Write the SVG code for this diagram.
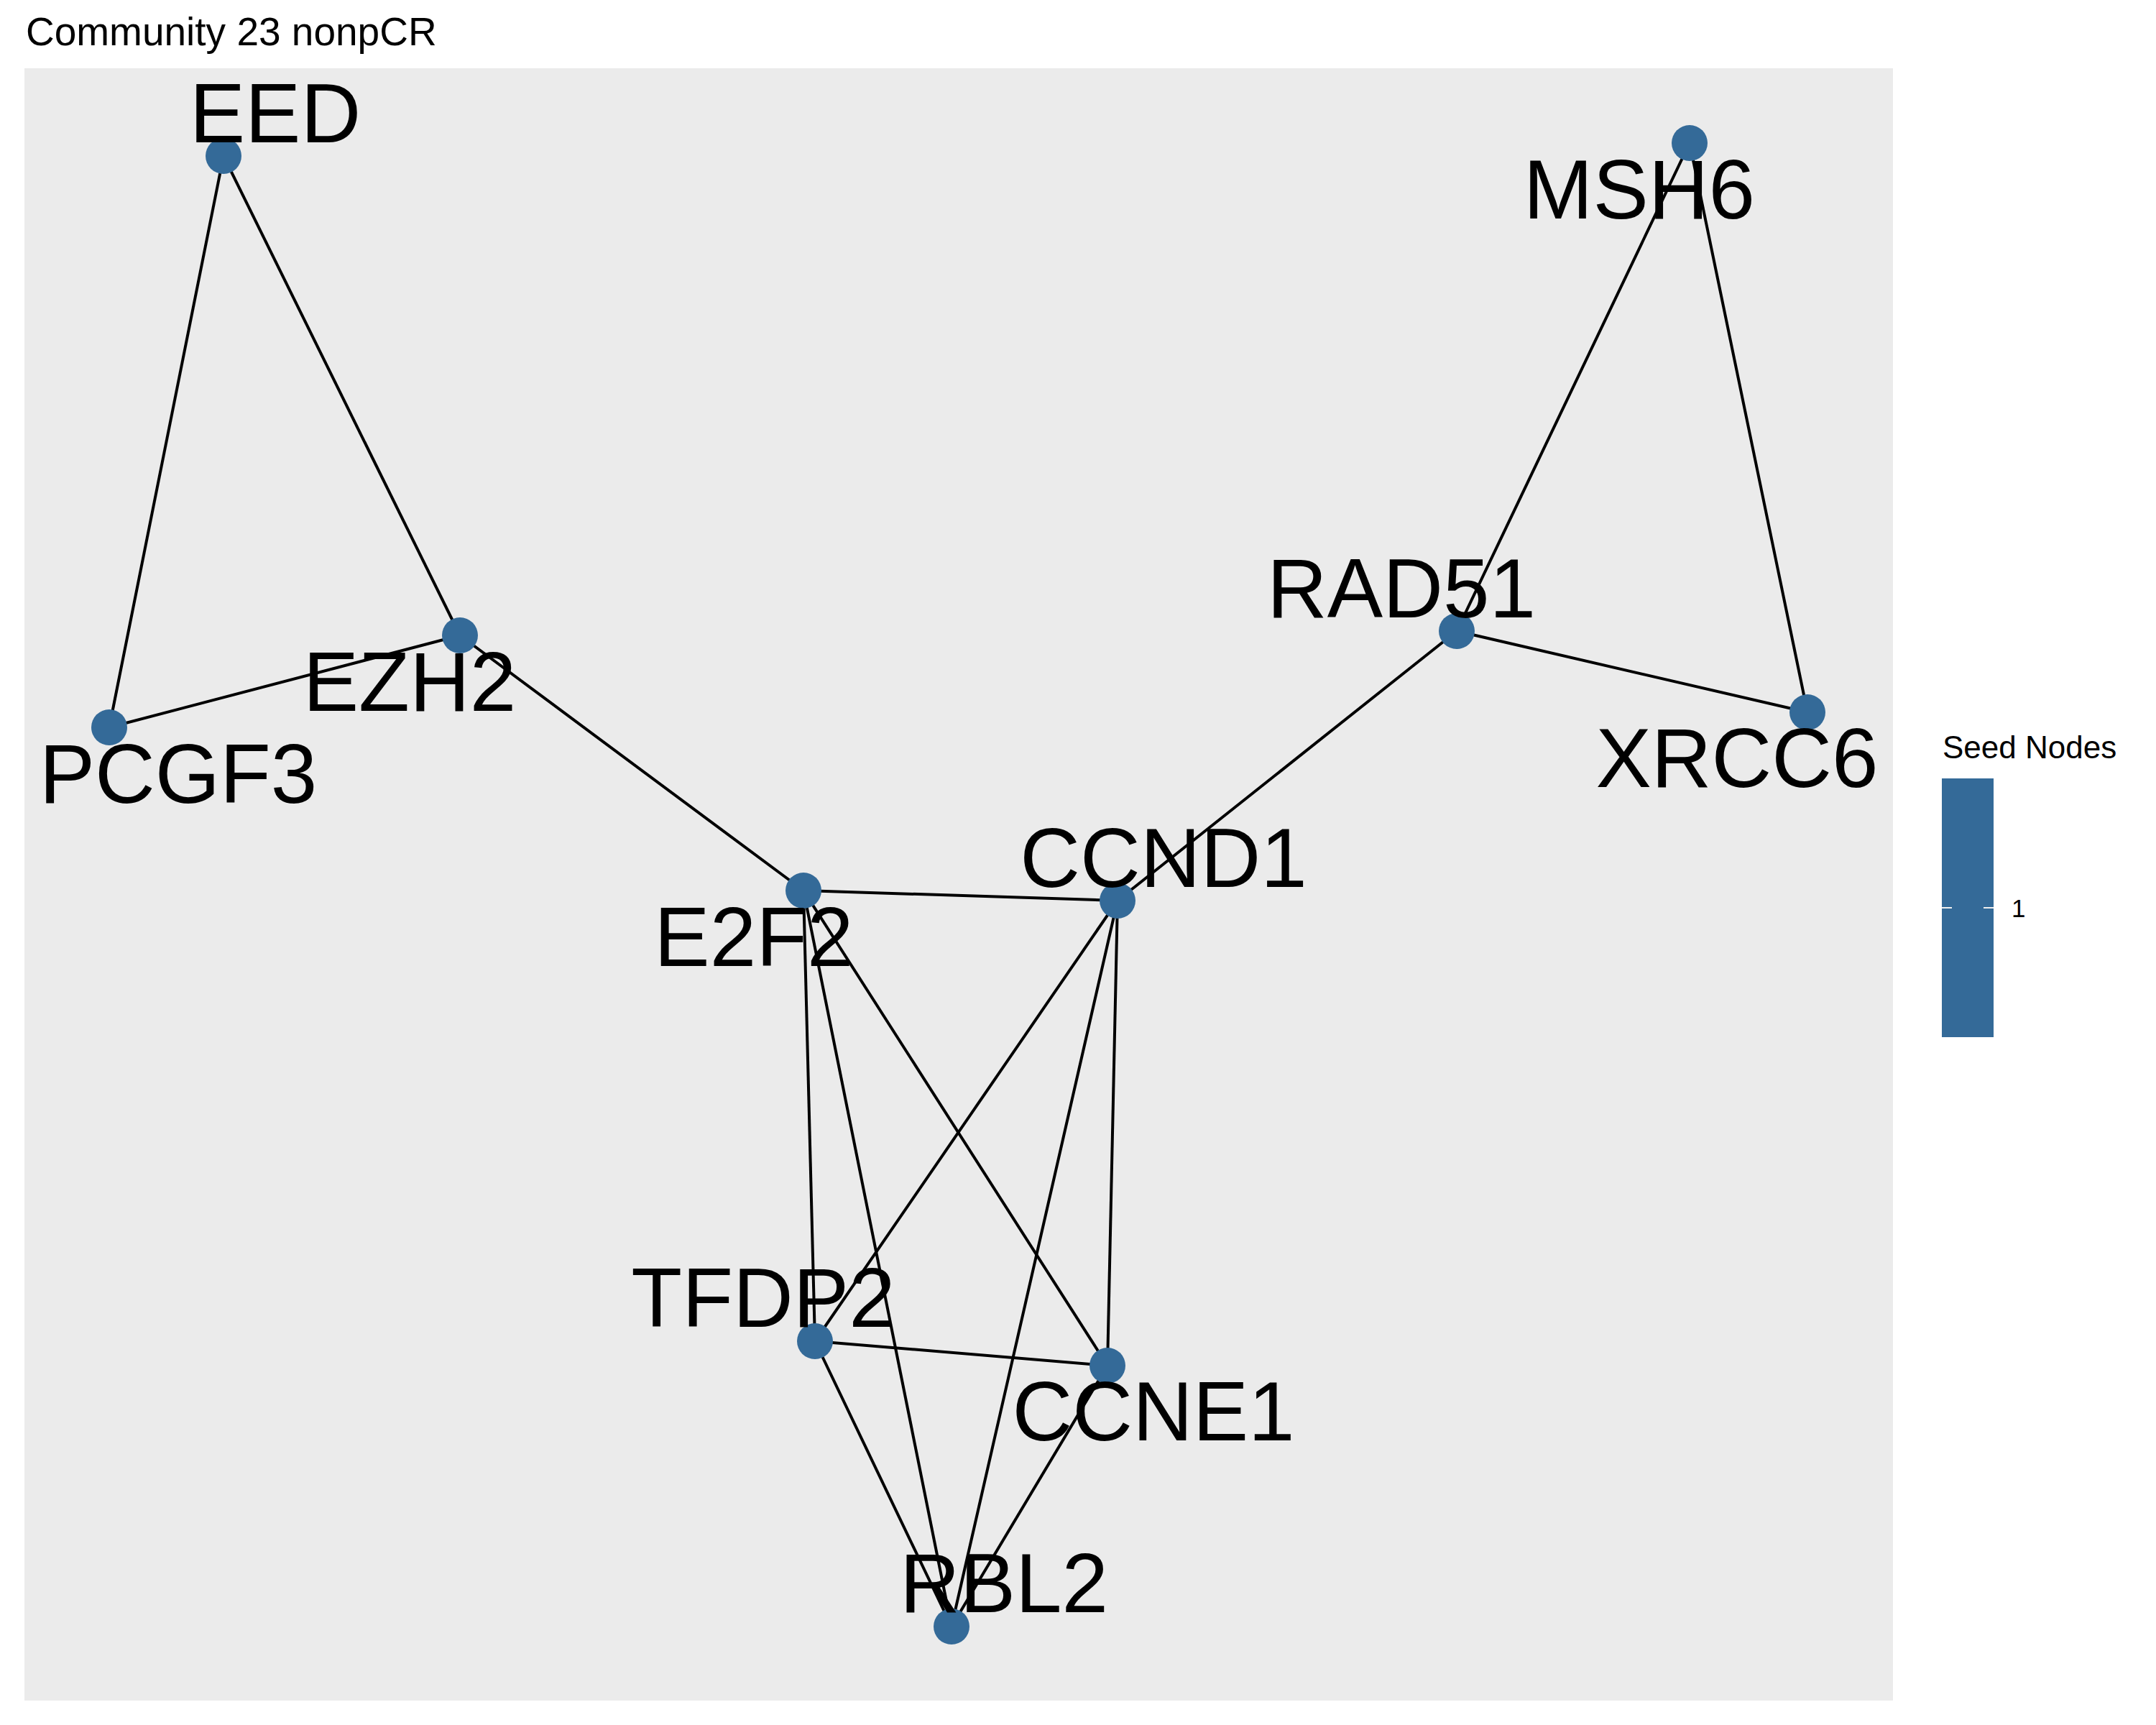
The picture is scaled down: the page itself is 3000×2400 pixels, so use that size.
<svg xmlns="http://www.w3.org/2000/svg" width="3000" height="2400" viewBox="0 0 3000 2400">
<style>
.edge{stroke:#000;stroke-width:4;fill:none}
.node{fill:#346A98}
.lbl{font-family:"Liberation Sans",Arial,sans-serif;font-size:116px;fill:#000;text-anchor:middle}
.title{font-family:"Liberation Sans",Arial,sans-serif;font-size:55px;fill:#000}
.leg{font-family:"Liberation Sans",Arial,sans-serif;fill:#000}
</style>
<rect x="0" y="0" width="3000" height="2400" fill="#FFFFFF"/>
<text class="title" x="36" y="63">Community 23 nonpCR</text>
<rect id="panel" x="34" y="95" width="2600" height="2271" fill="#EBEBEB"/>
<g id="connectors">
<line class="edge" x1="311" y1="217" x2="152" y2="1012"/>
<line class="edge" x1="311" y1="217" x2="640" y2="884"/>
<line class="edge" x1="640" y1="884" x2="152" y2="1012"/>
<line class="edge" x1="640" y1="884" x2="1118" y2="1239"/>
<line class="edge" x1="1118" y1="1239" x2="1555" y2="1253"/>
<line class="edge" x1="1118" y1="1239" x2="1134" y2="1866"/>
<line class="edge" x1="1118" y1="1239" x2="1324" y2="2263"/>
<line class="edge" x1="1118" y1="1239" x2="1541" y2="1900"/>
<line class="edge" x1="1555" y1="1253" x2="2027" y2="878"/>
<line class="edge" x1="1555" y1="1253" x2="1134" y2="1866"/>
<line class="edge" x1="1555" y1="1253" x2="1324" y2="2263"/>
<line class="edge" x1="1555" y1="1253" x2="1541" y2="1900"/>
<line class="edge" x1="1134" y1="1866" x2="1541" y2="1900"/>
<line class="edge" x1="1134" y1="1866" x2="1324" y2="2263"/>
<line class="edge" x1="1541" y1="1900" x2="1324" y2="2263"/>
<line class="edge" x1="2027" y1="878" x2="2351" y2="199"/>
<line class="edge" x1="2027" y1="878" x2="2515" y2="991"/>
<line class="edge" x1="2351" y1="199" x2="2515" y2="991"/>
</g>
<g id="node-EED"><circle class="node" cx="311" cy="217" r="25"/><text class="lbl" x="383" y="198">EED</text></g>
<g id="node-MSH6"><circle class="node" cx="2351" cy="199" r="25"/><text class="lbl" x="2281" y="304">MSH6</text></g>
<g id="node-EZH2"><circle class="node" cx="640" cy="884" r="25"/><text class="lbl" x="570" y="989">EZH2</text></g>
<g id="node-PCGF3"><circle class="node" cx="152" cy="1012" r="25"/><text class="lbl" x="248" y="1117">PCGF3</text></g>
<g id="node-RAD51"><circle class="node" cx="2027" cy="878" r="25"/><text class="lbl" x="1950" y="859">RAD51</text></g>
<g id="node-XRCC6"><circle class="node" cx="2515" cy="991" r="25"/><text class="lbl" x="2417" y="1095">XRCC6</text></g>
<g id="node-E2F2"><circle class="node" cx="1118" cy="1239" r="25"/><text class="lbl" x="1049" y="1344">E2F2</text></g>
<g id="node-CCND1"><circle class="node" cx="1555" cy="1253" r="25"/><text class="lbl" x="1619" y="1234">CCND1</text></g>
<g id="node-TFDP2"><circle class="node" cx="1134" cy="1866" r="25"/><text class="lbl" x="1062" y="1846">TFDP2</text></g>
<g id="node-CCNE1"><circle class="node" cx="1541" cy="1900" r="25"/><text class="lbl" x="1605" y="2004">CCNE1</text></g>
<g id="node-RBL2"><circle class="node" cx="1324" cy="2263" r="25"/><text class="lbl" x="1397" y="2243">RBL2</text></g>
<g id="legend">
<text class="leg" x="2703" y="1055" font-size="44">Seed Nodes</text>
<rect x="2702" y="1083" width="72" height="360" fill="#346A98"/>
<line x1="2702" y1="1263" x2="2716" y2="1263" stroke="#EEEEEE" stroke-width="2"/>
<line x1="2760" y1="1263" x2="2774" y2="1263" stroke="#EEEEEE" stroke-width="2"/>
<text class="leg" x="2799" y="1276" font-size="35">1</text>
</g>
</svg>
